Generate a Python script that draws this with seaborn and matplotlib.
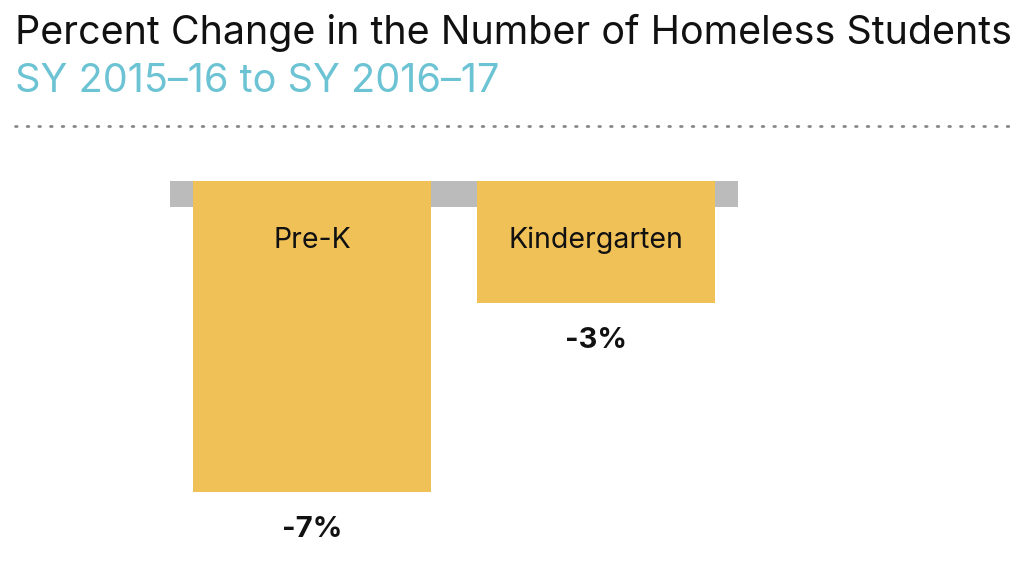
import pandas as pd
import matplotlib.pyplot as plt
import seaborn as sns
from matplotlib.lines import Line2D

# values; labels as printed on the chart
categories = ['Pre-K', 'Kindergarten']
values = [-7.4, -2.9]
value_labels = ['-7%', '-3%']

title = 'Percent Change in the Number of Homeless Students'
subtitle = 'SY 2015\u201316 to SY 2016\u201317'

BAR_COLOR = '#f0c157'
BAND_COLOR = '#bbbbbb'
TEAL = '#6cc3d3'

sns.set_style('white')
plt.rcParams['font.family'] = ['Inter', 'DejaVu Sans']

df = pd.DataFrame({'category': categories, 'value': values})

fig = plt.figure(figsize=(10.24, 5.69), dpi=100)
W, H = 1024, 569

# axes placed so bars hang from the grey band
ax = fig.add_axes([170 / W, 1 - 492 / H, (738 - 170) / W, (492 - 181) / H])
sns.barplot(data=df, x='category', y='value', color=BAR_COLOR, width=0.84,
            saturation=1, linewidth=0, ax=ax, zorder=2)
ax.axhspan(-0.62, 0, color=BAND_COLOR, zorder=1, lw=0)
ax.set_xlim(-0.5, 1.5)
ax.set_ylim(min(values), 0)
ax.axis('off')

for i, (cat, v, lab) in enumerate(zip(categories, values, value_labels)):
    ax.annotate(cat, (i, 0), xytext=(0, -43), textcoords='offset points',
                ha='center', va='center', fontsize=20.5, color='#111111')
    ax.annotate(lab, (i, v), xytext=(0, -27), textcoords='offset points',
                ha='center', va='center', fontsize=21, fontweight='bold',
                color='#111111', annotation_clip=False)

fig.text(15 / W, 1 - 33 / H, title, fontsize=28.4, color='#111111',
         ha='left', va='center')
fig.text(15 / W, 1 - 81 / H, subtitle, fontsize=28.6, color=TEAL,
         ha='left', va='center')

fig.add_artist(Line2D([15 / W, 1010 / W], [1 - 126 / H, 1 - 126 / H],
                      transform=fig.transFigure, color='#888888', lw=2,
                      linestyle=(0, (0.6, 3.6)), solid_capstyle='round',
                      dash_capstyle='round'))

plt.savefig('out.png', dpi=100)
